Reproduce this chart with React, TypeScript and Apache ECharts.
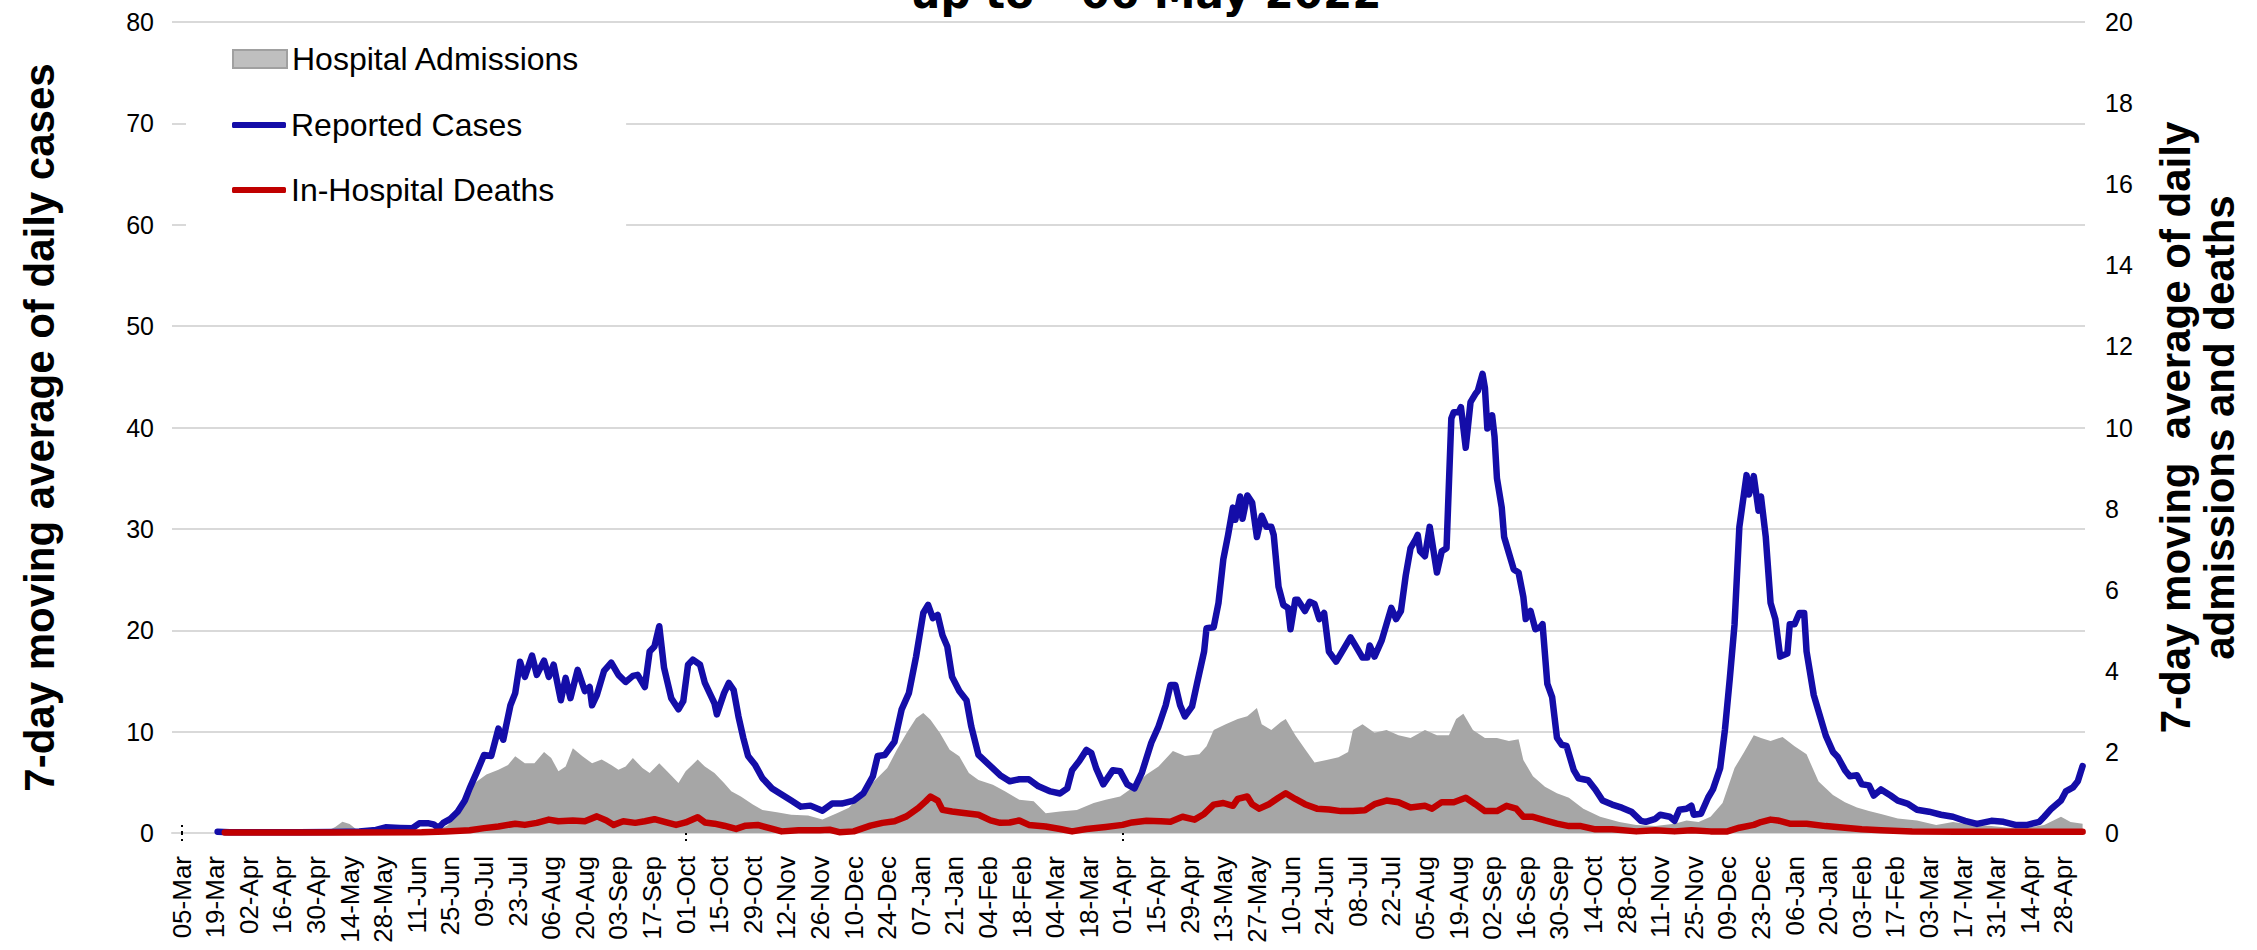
import React, { useEffect, useRef } from "react";
import * as echarts from "echarts";

// Day 0 = 05-Mar-2020; last day 792 = 06-May-2022
const tickLabels = [
  "05-Mar", "19-Mar", "02-Apr", "16-Apr", "30-Apr", "14-May", "28-May", "11-Jun", "25-Jun", "09-Jul",
  "23-Jul", "06-Aug", "20-Aug", "03-Sep", "17-Sep", "01-Oct", "15-Oct", "29-Oct", "12-Nov", "26-Nov",
  "10-Dec", "24-Dec", "07-Jan", "21-Jan", "04-Feb", "18-Feb", "04-Mar", "18-Mar", "01-Apr", "15-Apr",
  "29-Apr", "13-May", "27-May", "10-Jun", "24-Jun", "08-Jul", "22-Jul", "05-Aug", "19-Aug", "02-Sep",
  "16-Sep", "30-Sep", "14-Oct", "28-Oct", "11-Nov", "25-Nov", "09-Dec", "23-Dec", "06-Jan", "20-Jan",
  "03-Feb", "17-Feb", "03-Mar", "17-Mar", "31-Mar", "14-Apr", "28-Apr",
];
const TICK_STEP = 14;
const markerDays = [0, 210, 392];

// [day, 7-day average of daily cases] (left axis)
const casesData: [number, number][] = [
  [15, 0.13], [20, 0.08], [28, 0.07], [40, 0.08], [49, 0.07], [63, 0.1], [74, 0.16], [81, 0.3], [85, 0.56],
  [91, 0.5], [96, 0.46], [99, 0.95], [103, 0.95], [105, 0.85], [107, 0.5], [109, 1.0], [112, 1.4], [115, 2.1],
  [118, 3.2], [120, 4.4], [123, 6.0], [126, 7.7], [129, 7.6], [132, 10.3], [134, 9.2], [137, 12.6], [139, 13.8],
  [141, 16.9], [143, 15.4], [146, 17.5], [148, 15.6], [151, 17.0], [153, 15.4], [155, 16.6], [158, 13.1],
  [160, 15.3], [162, 13.3], [165, 16.1], [168, 14.0], [170, 14.4], [171, 12.6], [173, 13.6], [176, 16.0],
  [179, 16.8], [182, 15.6], [185, 14.9], [188, 15.5], [190, 15.6], [193, 14.4], [195, 17.9], [197, 18.4],
  [199, 20.4], [201, 16.3], [204, 13.3], [207, 12.2], [209, 13.0], [211, 16.6], [213, 17.1], [216, 16.6],
  [218, 14.8], [220, 13.8], [222, 12.8], [223, 11.7], [226, 13.8], [228, 14.8], [230, 14.1], [232, 11.5],
  [234, 9.4], [236, 7.6], [239, 6.7], [242, 5.4], [246, 4.4], [250, 3.8], [254, 3.2], [258, 2.6], [262, 2.7],
  [267, 2.2], [271, 2.9], [275, 2.9], [280, 3.2], [284, 3.9], [288, 5.6], [290, 7.6], [293, 7.7], [297, 9.0],
  [300, 12.2], [303, 13.8], [306, 17.4], [309, 21.7], [311, 22.5], [313, 21.2], [315, 21.5], [317, 19.5],
  [319, 18.4], [321, 15.4], [324, 14.0], [327, 13.1], [329, 10.5], [332, 7.7], [337, 6.6], [341, 5.7],
  [345, 5.1], [349, 5.3], [353, 5.3], [357, 4.6], [362, 4.1], [366, 3.9], [369, 4.4], [371, 6.2], [374, 7.1],
  [377, 8.2], [379, 7.9], [381, 6.4], [384, 4.8], [388, 6.2], [391, 6.1], [394, 4.8], [397, 4.4], [400, 5.9],
  [404, 8.9], [407, 10.5], [410, 12.6], [412, 14.6], [414, 14.6], [416, 12.6], [418, 11.5], [421, 12.5],
  [423, 14.7], [426, 17.9], [427, 20.2], [430, 20.3], [432, 22.7], [434, 27.0], [436, 29.4], [438, 32.1],
  [439, 30.9], [441, 33.2], [442, 31.0], [444, 33.3], [446, 32.6], [448, 29.2], [450, 31.3], [452, 30.2],
  [454, 30.2], [455, 29.4], [457, 24.3], [459, 22.5], [461, 22.2], [462, 20.1], [464, 23.0], [465, 23.0],
  [468, 21.9], [470, 22.8], [472, 22.6], [474, 21.1], [476, 21.7], [478, 17.9], [481, 16.9], [483, 17.7],
  [487, 19.3], [489, 18.5], [492, 17.3], [494, 17.3], [495, 18.5], [497, 17.4], [500, 19.0], [502, 20.6],
  [504, 22.2], [506, 21.1], [508, 21.9], [510, 25.4], [512, 28.1], [514, 28.9], [515, 29.4], [516, 27.8],
  [518, 27.3], [520, 30.2], [523, 25.7], [525, 27.8], [527, 28.1], [529, 40.9], [530, 41.5], [532, 41.5],
  [533, 42.0], [535, 38.0], [537, 42.5], [539, 43.3], [540, 43.6], [542, 45.3], [543, 43.9], [544, 39.9],
  [546, 41.2], [547, 39.1], [548, 35.0], [550, 32.1], [551, 29.2], [553, 27.6], [555, 26.0], [557, 25.7],
  [559, 23.3], [560, 21.1], [562, 21.9], [564, 20.1], [566, 20.3], [567, 20.6], [569, 14.7], [571, 13.4],
  [573, 9.4], [575, 8.7], [577, 8.6], [580, 6.2], [582, 5.4], [586, 5.2], [589, 4.3], [592, 3.2], [596, 2.8],
  [600, 2.5], [604, 2.1], [608, 1.2], [610, 1.1], [614, 1.4], [616, 1.8], [620, 1.6], [622, 1.2], [624, 2.3],
  [627, 2.4], [629, 2.7], [630, 1.8], [633, 1.9], [636, 3.5], [638, 4.3], [641, 6.4], [643, 10.2], [645, 15.2],
  [647, 20.6], [649, 30.2], [652, 35.3], [653, 33.4], [655, 35.2], [657, 31.8], [658, 33.2], [660, 29.2],
  [662, 22.7], [664, 21.1], [666, 17.4], [669, 17.7], [670, 20.6], [672, 20.6], [674, 21.7], [676, 21.7],
  [677, 17.9], [680, 13.6], [682, 12.0], [685, 9.6], [688, 8.0], [690, 7.5], [693, 6.2], [695, 5.6], [698, 5.7],
  [700, 4.8], [703, 4.7], [705, 3.7], [708, 4.3], [712, 3.7], [715, 3.2], [719, 2.9], [723, 2.3], [728, 2.1],
  [733, 1.8], [738, 1.6], [743, 1.2], [748, 0.9], [754, 1.2], [759, 1.1], [764, 0.8], [769, 0.8], [774, 1.1],
  [776, 1.6], [779, 2.4], [783, 3.2], [785, 4.1], [788, 4.5], [790, 5.1], [792, 6.6],
];

// [day, 7-day average of daily hospital admissions] (right axis)
const admissionsData: [number, number][] = [
  [55, 0], [60, 0.03], [64, 0.15], [67, 0.28], [70, 0.22], [73, 0.08], [76, 0.03], [85, 0.04], [95, 0.04],
  [104, 0.05], [108, 0.1], [111, 0.2], [115, 0.57], [119, 0.99], [123, 1.27], [127, 1.44], [132, 1.56],
  [136, 1.68], [139, 1.89], [143, 1.72], [147, 1.72], [151, 2.0], [154, 1.85], [157, 1.52], [160, 1.64],
  [163, 2.09], [167, 1.89], [171, 1.72], [175, 1.81], [179, 1.68], [182, 1.56], [185, 1.64], [188, 1.85],
  [192, 1.6], [195, 1.48], [199, 1.72], [203, 1.48], [207, 1.23], [210, 1.52], [215, 1.81], [218, 1.64],
  [222, 1.48], [226, 1.23], [229, 1.03], [233, 0.9], [238, 0.7], [242, 0.57], [248, 0.51], [254, 0.45],
  [261, 0.43], [267, 0.33], [273, 0.49], [278, 0.62], [284, 0.99], [289, 1.31], [294, 1.6], [298, 2.05],
  [302, 2.46], [306, 2.83], [309, 2.96], [312, 2.79], [316, 2.46], [320, 2.05], [324, 1.89], [328, 1.48],
  [332, 1.31], [338, 1.19], [343, 1.03], [349, 0.82], [355, 0.78], [360, 0.49], [366, 0.53], [373, 0.57],
  [380, 0.74], [385, 0.82], [391, 0.9], [396, 1.11], [402, 1.44], [407, 1.64], [413, 2.02], [418, 1.9],
  [424, 1.94], [427, 2.14], [430, 2.54], [435, 2.68], [440, 2.81], [444, 2.88], [448, 3.08], [450, 2.68],
  [454, 2.54], [458, 2.74], [460, 2.81], [464, 2.41], [468, 2.07], [472, 1.74], [477, 1.8], [482, 1.87],
  [486, 2.0], [488, 2.54], [492, 2.68], [497, 2.47], [502, 2.54], [507, 2.41], [512, 2.34], [518, 2.54],
  [523, 2.41], [528, 2.41], [531, 2.81], [534, 2.94], [538, 2.54], [543, 2.34], [548, 2.34], [553, 2.27],
  [557, 2.31], [559, 1.8], [563, 1.4], [568, 1.14], [573, 0.98], [578, 0.87], [584, 0.6], [591, 0.4],
  [599, 0.27], [606, 0.2], [614, 0.17], [622, 0.23], [627, 0.31], [632, 0.27], [637, 0.4], [642, 0.74],
  [647, 1.6], [651, 2.0], [655, 2.41], [658, 2.34], [662, 2.27], [667, 2.37], [672, 2.14], [677, 1.94],
  [682, 1.27], [688, 0.94], [693, 0.76], [698, 0.63], [703, 0.54], [708, 0.47], [715, 0.36], [723, 0.31],
  [731, 0.2], [738, 0.27], [746, 0.2], [754, 0.17], [761, 0.13], [769, 0.13], [776, 0.2], [783, 0.4],
  [787, 0.27], [792, 0.23],
];

// [day, 7-day average of daily in-hospital deaths] (right axis)
const deathsData: [number, number][] = [
  [18, 0.01], [40, 0.01], [70, 0.01], [100, 0.02], [110, 0.04], [120, 0.07], [126, 0.12], [132, 0.16],
  [139, 0.23], [143, 0.2], [148, 0.25], [153, 0.33], [157, 0.29], [163, 0.31], [168, 0.29], [173, 0.41],
  [177, 0.31], [180, 0.2], [184, 0.29], [189, 0.25], [193, 0.29], [197, 0.34], [202, 0.26], [206, 0.2],
  [210, 0.26], [215, 0.39], [218, 0.26], [222, 0.23], [226, 0.18], [231, 0.1], [235, 0.18], [240, 0.2],
  [245, 0.12], [250, 0.04], [257, 0.07], [266, 0.07], [270, 0.08], [274, 0.02], [280, 0.04], [287, 0.18],
  [292, 0.25], [297, 0.29], [302, 0.41], [307, 0.62], [310, 0.78], [312, 0.9], [315, 0.8], [317, 0.57],
  [321, 0.53], [325, 0.5], [332, 0.45], [337, 0.31], [341, 0.25], [345, 0.26], [349, 0.31], [353, 0.2],
  [360, 0.16], [366, 0.1], [371, 0.04], [377, 0.1], [385, 0.15], [392, 0.2], [396, 0.26], [402, 0.3],
  [408, 0.29], [412, 0.28], [417, 0.4], [422, 0.33], [426, 0.47], [430, 0.7], [434, 0.74], [438, 0.67],
  [440, 0.84], [444, 0.9], [446, 0.71], [449, 0.6], [453, 0.71], [457, 0.87], [460, 0.98], [464, 0.84],
  [468, 0.71], [473, 0.6], [478, 0.58], [483, 0.54], [488, 0.54], [493, 0.56], [497, 0.71], [502, 0.8],
  [507, 0.76], [512, 0.63], [518, 0.67], [521, 0.6], [525, 0.76], [530, 0.76], [535, 0.87], [539, 0.71],
  [543, 0.54], [548, 0.54], [552, 0.67], [556, 0.6], [559, 0.4], [563, 0.4], [568, 0.31], [573, 0.23],
  [578, 0.17], [583, 0.17], [589, 0.09], [596, 0.09], [606, 0.04], [614, 0.07], [622, 0.04], [629, 0.07],
  [637, 0.04], [644, 0.04], [649, 0.13], [655, 0.2], [658, 0.27], [662, 0.33], [665, 0.31], [670, 0.23],
  [677, 0.23], [685, 0.17], [693, 0.13], [700, 0.09], [708, 0.07], [721, 0.04], [740, 0.03], [760, 0.03],
  [780, 0.03], [792, 0.03],
];

const FONT = "'Liberation Sans', Arial, sans-serif";
const BLUE = "#140da8";
const RED = "#c00000";
const GRAY = "#a6a6a6";
const LEGEND_FONT = 32;

export default function App() {
  const ref = useRef<HTMLDivElement>(null);
  useEffect(() => {
    if (!ref.current) return;
    const chart = echarts.init(ref.current, undefined, { renderer: "svg" });
    const tickDays = tickLabels.map((_, k) => k * TICK_STEP);
    const legendText = { fontSize: LEGEND_FONT, fontFamily: FONT, color: "#000" };
    chart.setOption({
      animation: false,
      backgroundColor: "#fff",
      graphic: [
        {
          type: "text",
          x: 1146,
          y: -7,
          style: {
            text: "up to - 06 May 2022",
            font: "bold 42px 'DejaVu Sans', sans-serif",
            fill: "#000",
            align: "center",
            verticalAlign: "middle",
          },
        },
      ],
      grid: { left: 172, right: 172, top: 22, bottom: 117, containLabel: false },
      legend: [
        {
          left: 186,
          top: 29,
          orient: "vertical",
          backgroundColor: "#fff",
          padding: [14, 46, 156, 46],
          itemWidth: 54,
          itemHeight: 18,
          selectedMode: false,
          textStyle: legendText,
          data: [
            {
              name: "Hospital Admissions",
              icon: "rect",
              itemStyle: { color: "#bfbfbf", borderColor: "#a0a0a0", borderWidth: 2 },
            },
          ],
          z: 4,
        },
        {
          left: 232,
          top: 109,
          padding: 0,
          itemWidth: 54,
          itemHeight: 6,
          selectedMode: false,
          textStyle: legendText,
          data: [{ name: "Reported Cases", icon: "roundRect", itemStyle: { color: BLUE } }],
          z: 5,
        },
        {
          left: 232,
          top: 174,
          padding: 0,
          itemWidth: 54,
          itemHeight: 6,
          selectedMode: false,
          textStyle: legendText,
          data: [{ name: "In-Hospital Deaths", icon: "roundRect", itemStyle: { color: RED } }],
          z: 5,
        },
      ],
      xAxis: [
        {
          type: "value",
          min: -4,
          max: 793,
          splitLine: { show: false },
          axisLine: { show: true, onZero: false, lineStyle: { color: "#d9d9d9", width: 2 } },
          axisTick: {
            show: true,
            customValues: markerDays,
            length: 12,
            lineStyle: { color: "#000", width: 2, type: [2, 4] },
          },
          axisLabel: {
            customValues: tickDays,
            formatter: (v: number) => tickLabels[Math.round(v / TICK_STEP)] ?? "",
            rotate: 90,
            fontSize: 26,
            fontFamily: FONT,
            color: "#000",
            margin: 23,
            padding: [0, 0, 12, 0],
          },
        },
        {
          type: "value",
          min: -4,
          max: 793,
          position: "bottom",
          splitLine: { show: false },
          axisLine: { show: false },
          axisLabel: { show: false },
          axisTick: {
            show: true,
            inside: true,
            customValues: markerDays,
            length: 10,
            lineStyle: { color: "#000", width: 2, type: [2, 4] },
          },
        },
      ],
      yAxis: [
        {
          type: "value",
          position: "left",
          min: 0,
          max: 80,
          interval: 10,
          axisLine: { show: false },
          axisTick: { show: false },
          splitLine: { lineStyle: { color: "#d9d9d9", width: 2 } },
          axisLabel: { fontSize: 25, fontFamily: FONT, color: "#000", margin: 18 },
          name: "7-day moving average of daily cases",
          nameLocation: "middle",
          nameRotate: 90,
          nameGap: 112,
          nameTextStyle: { fontSize: 42, fontWeight: "bold", fontFamily: FONT, color: "#000" },
        },
        {
          type: "value",
          position: "right",
          min: 0,
          max: 20,
          interval: 2,
          axisLine: { show: false },
          axisTick: { show: false },
          splitLine: { show: false },
          axisLabel: { fontSize: 25, fontFamily: FONT, color: "#000", margin: 20 },
          name: "7-day moving  average of daily\nadmissions and deaths",
          nameLocation: "middle",
          nameRotate: 90,
          nameGap: 68,
          nameTextStyle: {
            fontSize: 42,
            fontWeight: "bold",
            fontFamily: FONT,
            color: "#000",
            lineHeight: 44,
          },
        },
      ],
      series: [
        {
          name: "Hospital Admissions",
          type: "line",
          xAxisIndex: 0,
          yAxisIndex: 1,
          data: admissionsData,
          symbol: "none",
          lineStyle: { width: 0, color: GRAY },
          itemStyle: { color: GRAY },
          areaStyle: { color: GRAY, opacity: 1 },
          z: 1,
        },
        {
          name: "Reported Cases",
          type: "line",
          xAxisIndex: 0,
          yAxisIndex: 0,
          data: casesData,
          symbol: "none",
          lineStyle: { width: 6.5, color: BLUE, cap: "round", join: "round" },
          itemStyle: { color: BLUE },
          z: 3,
        },
        {
          name: "In-Hospital Deaths",
          type: "line",
          xAxisIndex: 0,
          yAxisIndex: 1,
          data: deathsData,
          symbol: "none",
          lineStyle: { width: 6.5, color: RED, cap: "round", join: "round" },
          itemStyle: { color: RED },
          z: 4,
        },
      ],
    });
    return () => chart.dispose();
  }, []);
  return (
    <div
      ref={ref}
      style={{ position: "fixed", left: 0, top: 0, width: 2257, height: 950, background: "#fff" }}
    />
  );
}
